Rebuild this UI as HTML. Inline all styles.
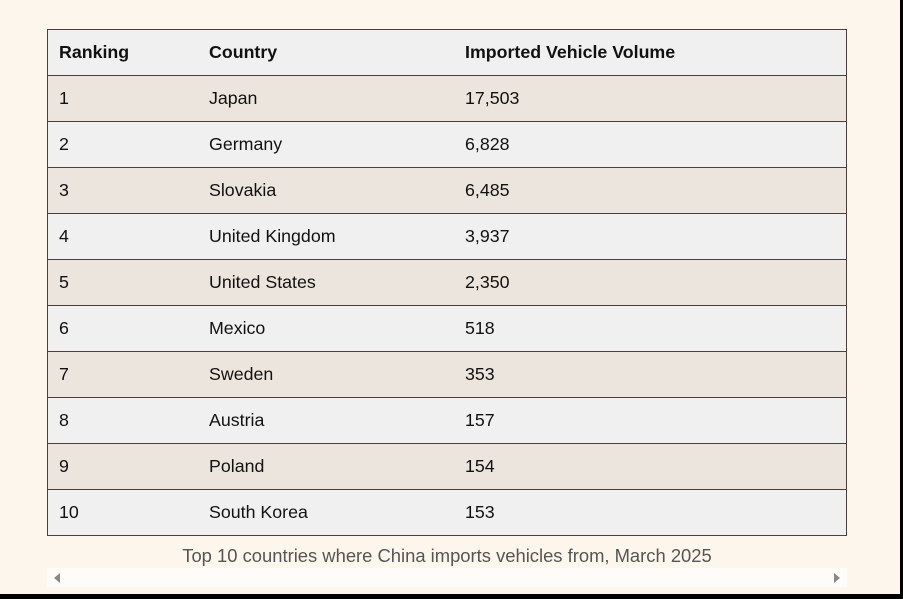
<!DOCTYPE html>
<html><head><style>
html,body{margin:0;padding:0;}
body{width:903px;height:599px;background:#000;position:relative;overflow:hidden;font-family:"Liberation Sans",sans-serif;}
.bg{position:absolute;left:0;top:0;width:900px;height:594px;background:#fdf6ec;}
table{position:absolute;left:47px;top:29px;width:800px;border-collapse:collapse;font-size:17.8px;color:#111;}
td,th{height:45px;border:1px solid #4a3f3b;border-left:none;border-right:none;padding:0 0 0 11px;text-align:left;}
table{border-left:1px solid #4a3f3b;border-right:1px solid #4a3f3b;}
th{font-weight:bold;background:#f0f0f0;}
tr:nth-child(even) td{background:#ece5dd;}
tr:nth-child(odd) td{background:#f0f0f0;}
.c1{width:139px}.c2{width:245px}
.cap{position:absolute;left:47px;width:800px;top:545px;text-align:center;font-size:18.4px;color:#555;}
.sb{position:absolute;left:47px;top:568px;width:800px;height:19px;background:#fefcf8;}
.l{position:absolute;left:7px;top:5px;width:0;height:0;border-top:5px solid transparent;border-bottom:5px solid transparent;border-right:6px solid #888;}
.r{position:absolute;right:7px;top:5px;width:0;height:0;border-top:5px solid transparent;border-bottom:5px solid transparent;border-left:6px solid #888;}
</style></head><body>
<div class="bg"></div>
<table>
<tr><th class="c1">Ranking</th><th class="c2">Country</th><th>Imported Vehicle Volume</th></tr>
<tr><td>1</td><td>Japan</td><td>17,503</td></tr>
<tr><td>2</td><td>Germany</td><td>6,828</td></tr>
<tr><td>3</td><td>Slovakia</td><td>6,485</td></tr>
<tr><td>4</td><td>United Kingdom</td><td>3,937</td></tr>
<tr><td>5</td><td>United States</td><td>2,350</td></tr>
<tr><td>6</td><td>Mexico</td><td>518</td></tr>
<tr><td>7</td><td>Sweden</td><td>353</td></tr>
<tr><td>8</td><td>Austria</td><td>157</td></tr>
<tr><td>9</td><td>Poland</td><td>154</td></tr>
<tr><td>10</td><td>South Korea</td><td>153</td></tr>
</table>
<div class="cap">Top 10 countries where China imports vehicles from, March 2025</div>
<div class="sb"><div class="l"></div><div class="r"></div></div>
</body></html>
